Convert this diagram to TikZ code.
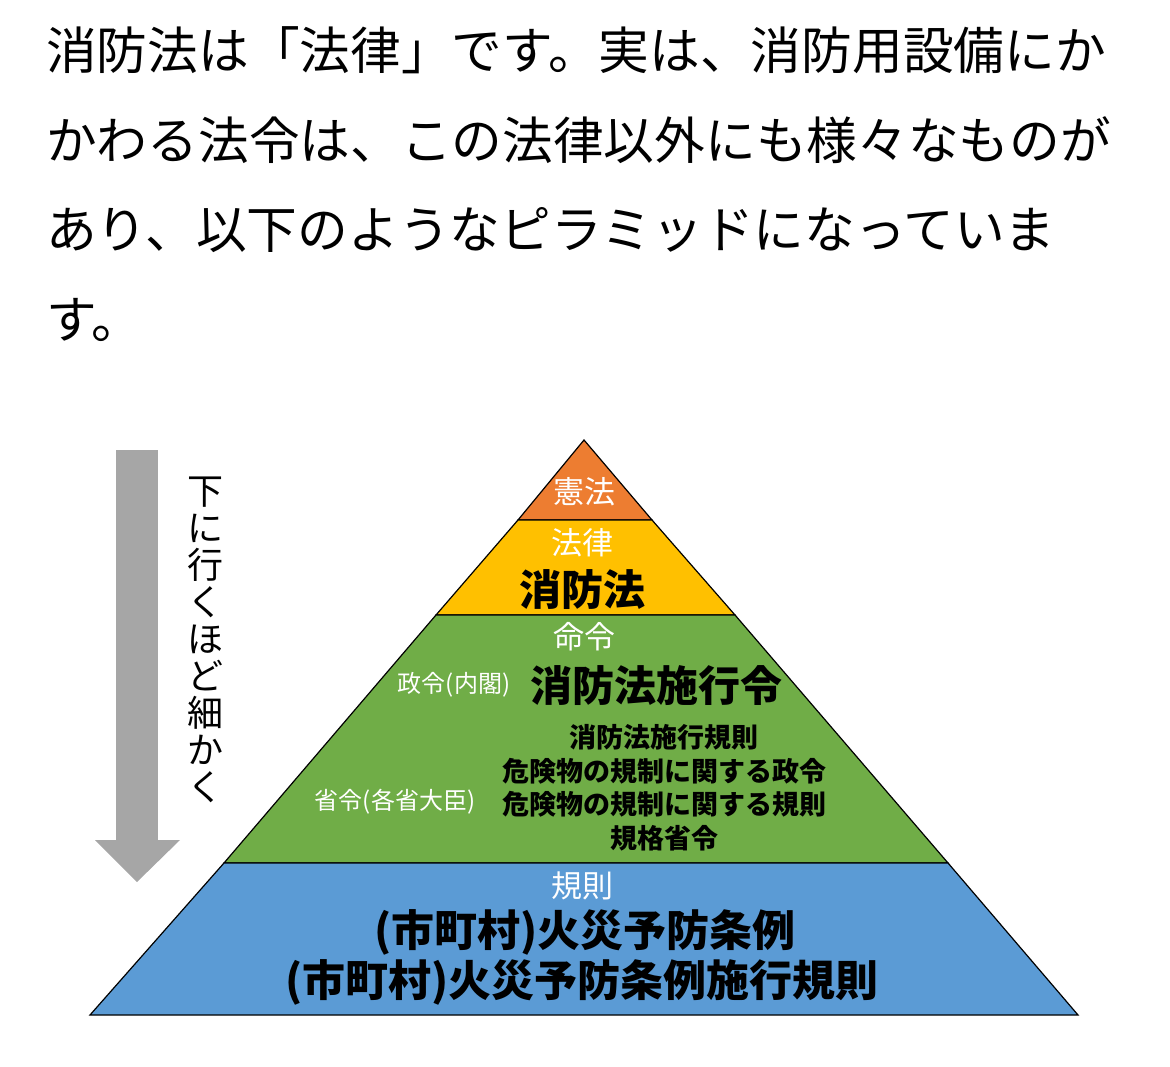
\documentclass[tikz,border=0pt]{standalone}
\usepackage{fontspec}
\setmainfont{Noto Sans CJK JP}
\begin{document}
\begin{tikzpicture}[x=1pt,y=-1pt,
  lay/.style={draw=black,line width=1.2pt},
  wt/.style={text=white,inner sep=0pt},
  bk/.style={text=black,inner sep=0pt,font=\bfseries}]
\useasboundingbox (0,0) rectangle (1170,1067);
\definecolor{cor}{HTML}{ED7D31}\definecolor{cye}{HTML}{FFC000}
\definecolor{cgr}{HTML}{70AD47}\definecolor{cbl}{HTML}{5B9BD5}
\definecolor{cgy}{HTML}{A6A6A6}
% intro text
\foreach \t [count=\i] in {消防法は「法律」です。実は、消防用設備にか,かわる法令は、この法律以外にも様々なものが,あり、以下のようなピラミッドになっていま,す。}
  \node[anchor=west,inner sep=0pt,font=\fontsize{50.7}{50}\selectfont] (t\i) at (46,{50+(\i-1)*90}) {\t};
% pyramid layers
\fill[cor,lay] (584,440) -- (652,520) -- (518,520) -- cycle;
\fill[cye,lay] (518,520) -- (652,520) -- (735,615) -- (436,615) -- cycle;
\fill[cgr,lay] (436,615) -- (735,615) -- (948,863) -- (224,863) -- cycle;
\fill[cbl,lay] (224,863) -- (948,863) -- (1078,1015) -- (90,1015) -- cycle;
% arrow
\fill[cgy] (116,450) rectangle (158,840);
\fill[cgy] (95,840) -- (180,840) -- (137,882) -- cycle;
\node[inner sep=0pt,align=center,font=\fontsize{36}{37}\selectfont] (v) at (205,640) {下\\に\\行\\く\\ほ\\ど\\細\\か\\く};
% labels
\node[wt,font=\fontsize{31}{31}\selectfont] (a) at (584,492) {憲法};
\node[wt,font=\fontsize{31}{31}\selectfont] (b) at (582,543) {法律};
\node[bk,font=\fontsize{42}{42}\selectfont\bfseries] (b2) at (582,590) {消防法};
\node[wt,font=\fontsize{31}{31}\selectfont] (c) at (584,637) {命令};
\node[wt,font=\fontsize{24}{24}\selectfont] (c1) at (454,685) {政令(内閣)};
\node[bk,font=\fontsize{42}{42}\selectfont\bfseries] (c2) at (656,686) {消防法施行令};
\node[wt,font=\fontsize{24}{24}\selectfont] (c3) at (395,802) {省令(各省大臣)};
\node[bk,font=\fontsize{27}{27}\selectfont\bfseries] (d1) at (664,737) {消防法施行規則};
\node[bk,font=\fontsize{27}{27}\selectfont\bfseries] (d2) at (664,771) {危険物の規制に関する政令};
\node[bk,font=\fontsize{27}{27}\selectfont\bfseries] (d3) at (664,804) {危険物の規制に関する規則};
\node[bk,font=\fontsize{27}{27}\selectfont\bfseries] (d4) at (664,838) {規格省令};
\node[wt,font=\fontsize{31}{31}\selectfont] (e) at (582,886) {規則};
\node[bk,font=\fontsize{43}{43}\selectfont\bfseries] (e1) at (585,932) {(市町村)火災予防条例};
\node[bk,font=\fontsize{43}{43}\selectfont\bfseries] (e2) at (582,982) {(市町村)火災予防条例施行規則};
\end{tikzpicture}
\end{document}
